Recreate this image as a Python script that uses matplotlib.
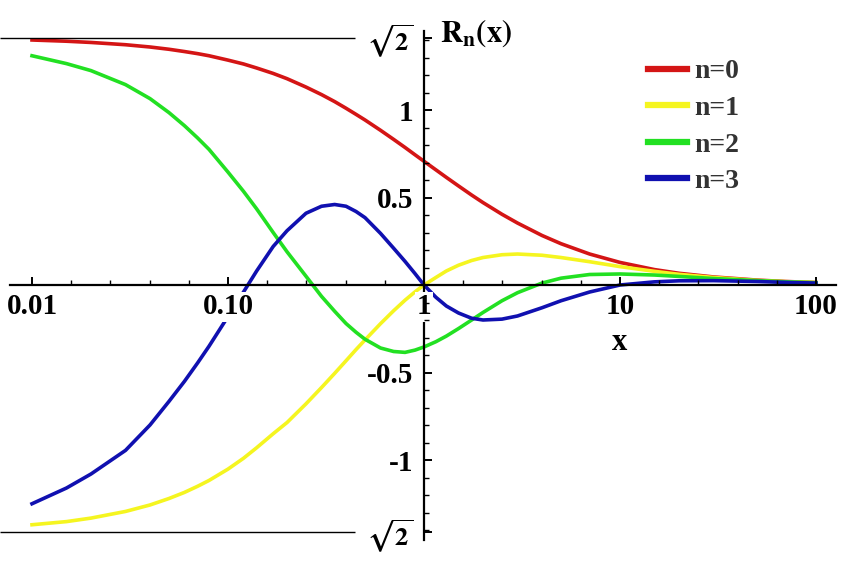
import numpy as np
from matplotlib import pyplot as plt
from matplotlib.ticker import FixedLocator, NullFormatter

plt.rcParams['font.family'] = ['Liberation Serif', 'DejaVu Serif']
plt.rcParams['font.weight'] = 'bold'
plt.rcParams['mathtext.fontset'] = 'stix'

SQ2 = np.sqrt(2)

# values
x = [0.01, 0.015, 0.02, 0.03, 0.04, 0.05, 0.06, 0.07, 0.08, 0.1, 0.12, 0.14, 0.17, 0.2,
     0.25, 0.3, 0.35, 0.4, 0.45, 0.5, 0.6, 0.7, 0.8, 0.9, 1, 1.15, 1.3, 1.5, 1.75, 2,
     2.5, 3, 4, 5, 7, 10, 15, 20, 30, 50, 70, 100]
r0 = [1.40, 1.393, 1.386, 1.373, 1.36, 1.347, 1.334, 1.322, 1.31, 1.285, 1.263, 1.24,
      1.209, 1.179, 1.131, 1.088, 1.048, 1.01, 0.975, 0.943, 0.884, 0.832, 0.786, 0.744,
      0.707, 0.658, 0.615, 0.566, 0.514, 0.471, 0.404, 0.354, 0.283, 0.236, 0.177, 0.129,
      0.088, 0.067, 0.046, 0.028, 0.02, 0.014]
r1 = [-1.37, -1.352, -1.332, -1.294, -1.257, -1.22, -1.185, -1.15, -1.117, -1.052, -0.99,
      -0.93, -0.85, -0.786, -0.679, -0.586, -0.505, -0.433, -0.369, -0.314, -0.221, -0.147,
      -0.087, -0.039, 0.0, 0.043, 0.08, 0.113, 0.14, 0.157, 0.173, 0.177, 0.17, 0.157,
      0.133, 0.105, 0.078, 0.061, 0.043, 0.026, 0.019, 0.014]
r2 = [1.31, 1.265, 1.225, 1.145, 1.065, 0.985, 0.91, 0.84, 0.775, 0.645, 0.535, 0.435,
      0.30, 0.19, 0.05, -0.065, -0.15, -0.22, -0.27, -0.31, -0.36, -0.38, -0.385, -0.372,
      -0.354, -0.324, -0.292, -0.249, -0.2, -0.157, -0.09, -0.044, 0.011, 0.039, 0.06,
      0.063, 0.057, 0.049, 0.037, 0.025, 0.018, 0.013]
r3 = [-1.25, -1.16, -1.08, -0.945, -0.8, -0.665, -0.55, -0.445, -0.35, -0.18, -0.04, 0.08,
      0.22, 0.31, 0.41, 0.45, 0.46, 0.45, 0.42, 0.385, 0.295, 0.21, 0.135, 0.065, 0.0,
      -0.07, -0.12, -0.16, -0.19, -0.2, -0.195, -0.177, -0.13, -0.09, -0.04, 0.0, 0.018,
      0.024, 0.025, 0.02, 0.015, 0.011]

series = [r0, r1, r2, r3]
names = ['n=0', 'n=1', 'n=2', 'n=3']
colors = ['#d41515', '#f5f520', '#22e022', '#1010b0']

xticks = [0.01, 0.1, 1, 10, 100]
xticklabels = ['0.01', '0.10', '1', '10', '100']
yticks = [-SQ2, -1, -0.5, 0.5, 1, SQ2]
yticklabels = [r'$\sqrt{\mathbf{2}}$', '-1', '-0.5', '0.5', '1', r'$\sqrt{\mathbf{2}}$']

fig = plt.figure(figsize=(8.56, 5.72), dpi=100)
ax = fig.add_axes([0, 0, 1, 1])

for ys, nm, c in zip(series, names, colors):
    ax.plot(x, ys, color=c, lw=2.6, label=nm, zorder=2)

ax.set_xscale('log')
dec = 196.0  # pixels per decade
ax.set_xlim(10 ** (-424 / dec), 10 ** (432 / dec))
ax.set_ylim(-287 / 175.0, 285 / 175.0)

# asymptote lines at +-sqrt2
ax.hlines([SQ2, -SQ2], ax.get_xlim()[0], 10 ** ((355 - 424) / dec), color='black', lw=1.0)

for s in ['top', 'right']:
    ax.spines[s].set_visible(False)
ax.spines['left'].set_position(('data', 1))
ax.spines['bottom'].set_position(('data', 0))
ax.spines['left'].set_bounds(-1.457, 1.451)
ax.spines['bottom'].set_bounds(10 ** ((10 - 424) / dec), 10 ** ((836 - 424) / dec))
for s in ['left', 'bottom']:
    ax.spines[s].set_linewidth(1.6)
    ax.spines[s].set_zorder(2.4)

ax.xaxis.set_major_locator(FixedLocator(xticks))
ax.xaxis.set_minor_locator(FixedLocator([10 ** (k / 5) for k in range(-10, 11) if k % 5]))
ax.xaxis.set_minor_formatter(NullFormatter())
ax.set_xticks(xticks)
ax.set_xticklabels(xticklabels)
ax.set_yticks(yticks)
ax.set_yticklabels(yticklabels)
ax.yaxis.set_minor_locator(FixedLocator([k / 10 for k in range(-14, 15) if k % 5]))

ax.tick_params(which='major', direction='in', length=6, width=1.4, labelsize=21, color='black')
ax.tick_params(which='minor', direction='in', length=3.5, width=1.0)
ax.tick_params(axis='x', pad=6)
ax.tick_params(axis='y', pad=8)
ax.xaxis.set_zorder(2.6)
ax.yaxis.set_zorder(2.6)
for lab in ax.get_xticklabels() + ax.get_yticklabels():
    lab.set_fontweight('bold')
    lab.set_bbox(dict(facecolor='white', edgecolor='none', pad=1))
ylabs = ax.get_yticklabels()
for lab in [ylabs[0], ylabs[-1]]:
    lab.set_fontsize(19)

ax.text(440 / 856, 1 - 42 / 572, r'$\mathbf{R_n(x)}$', transform=ax.transAxes,
        fontsize=22, va='baseline', ha='left')
ax.text(620 / 856, 1 - 350 / 572, 'x', transform=ax.transAxes, fontsize=22,
        fontweight='bold', ha='center', va='baseline')

leg = ax.legend(loc='upper left', bbox_to_anchor=(648 / 856, 1 - 59 / 572),
                frameon=False, handlelength=1.4, handletextpad=0.25,
                labelspacing=0.4, borderpad=0, borderaxespad=0,
                prop={'size': 20, 'weight': 'bold'})
for t in leg.get_texts():
    t.set_color('#333333')
for h in leg.get_lines():
    h.set_linewidth(4.5)

fig.savefig('out.png', dpi=100)
